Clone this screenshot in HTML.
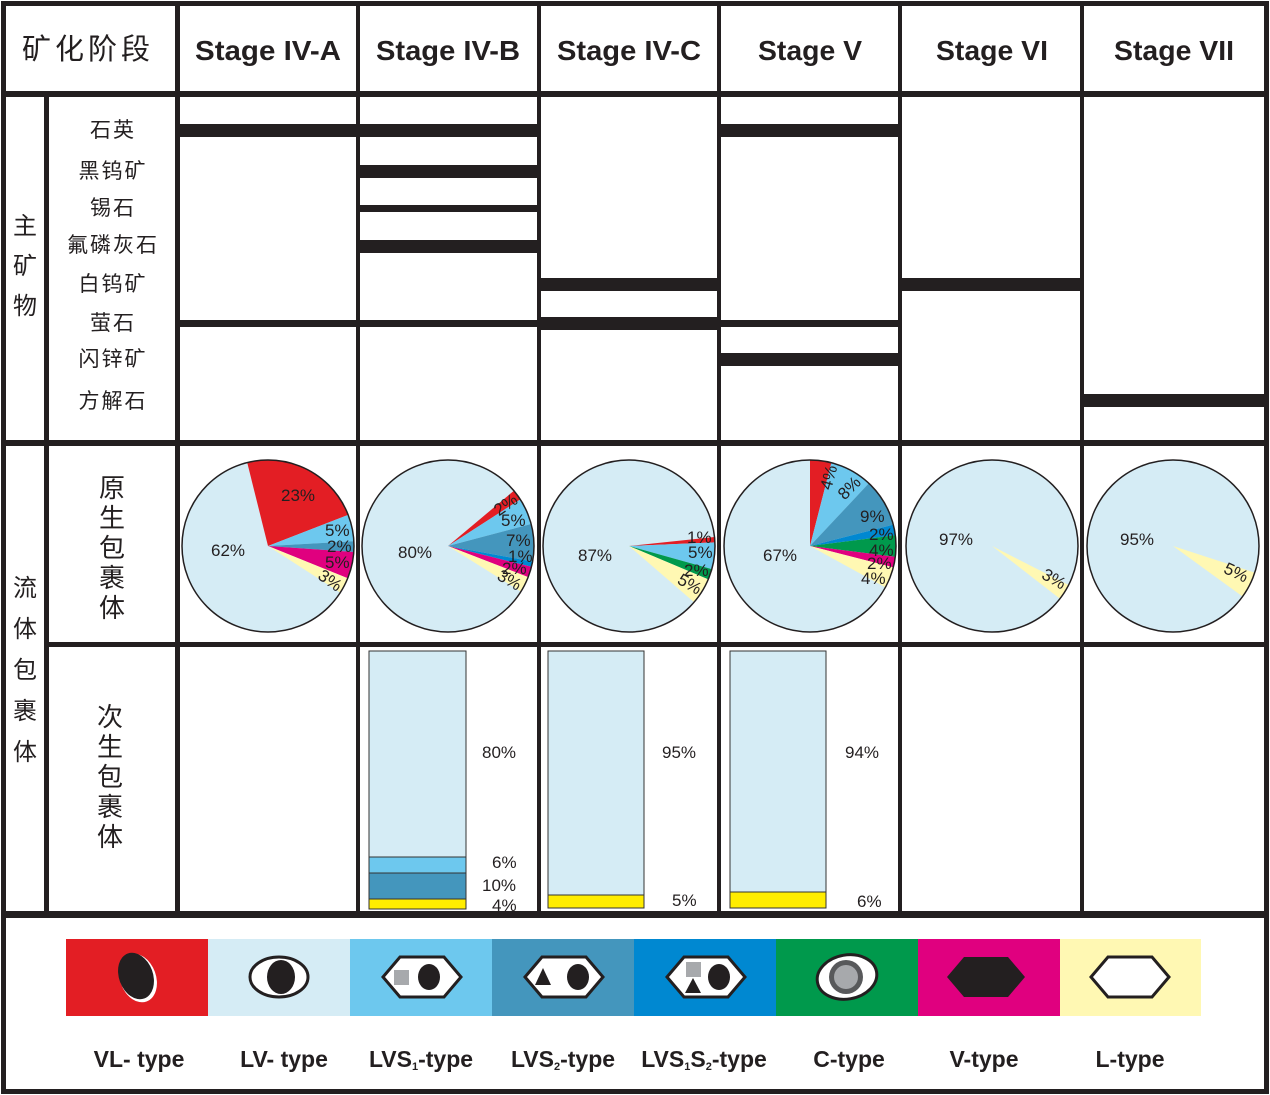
<!DOCTYPE html>
<html><head><meta charset="utf-8"><style>
html,body{margin:0;padding:0;background:#fff;}
svg{display:block;}
text{font-family:"Liberation Sans","Noto Sans CJK SC",sans-serif;fill:#231f20;}
.st{font-weight:bold;font-size:28px;}
.p{font-size:16px;}
.pp{font-size:17px;}
.lg{font-family:"Liberation Sans Narrow","Liberation Sans",sans-serif;font-weight:bold;font-size:23px;}
</style></head><body>
<svg id="s" width="1270" height="1095" viewBox="0 0 1270 1095" xmlns="http://www.w3.org/2000/svg">
<rect x="0" y="0" width="1270" height="1095" fill="#fff"/>
<g id="pies"></g>
<g stroke="#333" stroke-width="1">
<rect x="369" y="651" width="97" height="206" fill="#d5ecf5"/>
<rect x="369" y="857" width="97" height="16" fill="#6dc8ee"/>
<rect x="369" y="873" width="97" height="26" fill="#4496bd"/>
<rect x="369" y="899" width="97" height="10" fill="#ffed00"/>
<rect x="548" y="651" width="96" height="244" fill="#d5ecf5"/>
<rect x="548" y="895" width="96" height="13" fill="#ffed00"/>
<rect x="730" y="651" width="96" height="241" fill="#d5ecf5"/>
<rect x="730" y="892" width="96" height="16" fill="#ffed00"/>
</g>
<g class="pp">
<text x="482" y="758">80%</text><text x="492" y="868">6%</text><text x="482" y="891">10%</text><text x="492" y="911">4%</text>
<text x="662" y="758">95%</text><text x="672" y="906">5%</text>
<text x="845" y="758">94%</text><text x="857" y="907">6%</text>
</g>
<g fill="#231f20">
<rect x="178" y="124" width="182" height="13"/>
<rect x="358" y="124" width="180" height="13"/>
<rect x="719" y="124" width="181" height="13"/>
<rect x="358" y="165" width="180" height="13"/>
<rect x="358" y="205" width="180" height="7"/>
<rect x="358" y="240" width="180" height="13"/>
<rect x="538" y="278" width="181" height="13"/>
<rect x="900" y="278" width="182" height="13"/>
<rect x="178" y="320" width="180" height="7"/>
<rect x="358" y="320" width="180" height="7"/>
<rect x="538" y="317" width="181" height="13"/>
<rect x="719" y="320" width="181" height="7"/>
<rect x="719" y="353" width="181" height="13"/>
<rect x="1082" y="394" width="183" height="13"/>
</g>
<g fill="#231f20">
<rect x="1" y="1" width="1268" height="5"/>
<rect x="1" y="1089" width="1268" height="5"/>
<rect x="1" y="1" width="5" height="1093"/>
<rect x="1264" y="1" width="5" height="1093"/>
<rect x="1" y="91" width="1268" height="6"/>
<rect x="1" y="440" width="1268" height="6"/>
<rect x="44" y="642" width="1225" height="5"/>
<rect x="1" y="911" width="1268" height="7"/>
<rect x="44" y="91" width="5" height="826"/>
<rect x="175" y="1" width="5" height="916"/>
<rect x="356" y="1" width="4" height="916"/>
<rect x="537" y="1" width="4" height="916"/>
<rect x="717" y="1" width="4" height="916"/>
<rect x="898" y="1" width="4" height="916"/>
<rect x="1080" y="1" width="4" height="916"/>
</g>
<text x="88" y="59" text-anchor="middle" style="font-size:29px;letter-spacing:4px">矿化阶段</text>
<g class="st" text-anchor="middle">
<text x="268" y="60" textLength="146" lengthAdjust="spacingAndGlyphs">Stage IV-A</text>
<text x="448" y="60" textLength="144" lengthAdjust="spacingAndGlyphs">Stage IV-B</text>
<text x="629" y="60" textLength="144" lengthAdjust="spacingAndGlyphs">Stage IV-C</text>
<text x="810" y="60" textLength="104" lengthAdjust="spacingAndGlyphs">Stage V</text>
<text x="992" y="60" textLength="112" lengthAdjust="spacingAndGlyphs">Stage VI</text>
<text x="1174" y="60" textLength="120" lengthAdjust="spacingAndGlyphs">Stage VII</text>
</g>
<g style="font-size:24px" text-anchor="middle">
<text x="25" y="234">主</text><text x="25" y="274">矿</text><text x="25" y="314">物</text>
<text x="25" y="596">流</text><text x="25" y="637">体</text><text x="25" y="678">包</text><text x="25" y="719">裹</text><text x="25" y="760">体</text>
</g>
<g style="font-size:21px;letter-spacing:2px" text-anchor="middle">
<text x="113" y="137">石英</text>
<text x="113" y="178">黑钨矿</text>
<text x="113" y="215">锡石</text>
<text x="113" y="252">氟磷灰石</text>
<text x="113" y="291">白钨矿</text>
<text x="113" y="330">萤石</text>
<text x="113" y="366">闪锌矿</text>
<text x="113" y="408">方解石</text>
</g>
<g style="font-size:26px" text-anchor="middle">
<text x="112" y="497">原</text><text x="112" y="527">生</text><text x="112" y="557">包</text><text x="112" y="587">裹</text><text x="112" y="617">体</text>
<text x="110" y="726">次</text><text x="110" y="756">生</text><text x="110" y="786">包</text><text x="110" y="816">裹</text><text x="110" y="846">体</text>
</g>
<g class="pp">
<text x="211" y="556">62%</text><text x="281" y="501">23%</text>
<text x="325" y="536">5%</text><text x="327" y="552">2%</text><text x="325" y="568">5%</text><text x="318" y="586" transform="rotate(35 330 580)">3%</text>
<text x="398" y="558">80%</text>
<text x="493" y="512" transform="rotate(-35 503 505)">2%</text><text x="501" y="526">5%</text><text x="506" y="546">7%</text><text x="508" y="562">1%</text><text x="502" y="574">2%</text><text x="497" y="585" transform="rotate(30 508 580)">3%</text>
<text x="578" y="561">87%</text>
<text x="687" y="543">1%</text><text x="688" y="558">5%</text><text x="684" y="576">2%</text><text x="677" y="590" transform="rotate(30 690 585)">5%</text>
<text x="763" y="561">67%</text>
<text x="812" y="490" transform="rotate(-75 822 478)">4%</text><text x="836" y="496" transform="rotate(-45 846 488)">8%</text>
<text x="860" y="522">9%</text><text x="869" y="540">2%</text><text x="869" y="556">4%</text><text x="867" y="569">2%</text><text x="861" y="584">4%</text>
<text x="939" y="545">97%</text><text x="1042" y="584" transform="rotate(30 1053 578)">3%</text>
<text x="1120" y="545">95%</text><text x="1224" y="578" transform="rotate(25 1236 572)">5%</text>
</g>
<rect x="66" y="939" width="142" height="77" fill="#e31e24"/>
<rect x="208" y="939" width="142" height="77" fill="#d5ecf5"/>
<rect x="350" y="939" width="142" height="77" fill="#6dc8ee"/>
<rect x="492" y="939" width="142" height="77" fill="#4496bd"/>
<rect x="634" y="939" width="142" height="77" fill="#0088d1"/>
<rect x="776" y="939" width="142" height="77" fill="#00994c"/>
<rect x="918" y="939" width="142" height="77" fill="#e0007f"/>
<rect x="1060" y="939" width="141" height="77" fill="#fff8b3"/>
<ellipse cx="138" cy="978" rx="18" ry="25" fill="#fff" transform="rotate(-20 138 978)"/>
<ellipse cx="136" cy="976" rx="17" ry="24" fill="#231f20" transform="rotate(-20 136 976)"/>
<ellipse cx="279" cy="977" rx="29" ry="20" fill="#fff" stroke="#231f20" stroke-width="3"/>
<ellipse cx="281" cy="977" rx="14" ry="17" fill="#231f20"/>
<g stroke="#231f20" stroke-width="3" fill="#fff">
<polygon points="383,977 400,957 444,957 461,977 444,997 400,997"/>
<polygon points="525,977 542,957 586,957 603,977 586,997 542,997"/>
<polygon points="667,977 684,957 728,957 745,977 728,997 684,997"/>
<polygon points="1091,977 1108,957 1152,957 1169,977 1152,997 1108,997"/>
</g>
<polygon points="947,977 964,957 1008,957 1025,977 1008,997 964,997" fill="#231f20"/>
<rect x="394" y="970" width="15" height="15" fill="#a7a9ac"/>
<ellipse cx="429" cy="977" rx="11" ry="13" fill="#231f20"/>
<polygon points="535,985 543,968 551,985" fill="#231f20"/>
<ellipse cx="578" cy="977" rx="11" ry="13" fill="#231f20"/>
<rect x="686" y="962" width="15" height="15" fill="#a7a9ac"/>
<polygon points="685,993 693,978 701,993" fill="#231f20"/>
<ellipse cx="719" cy="977" rx="11" ry="13" fill="#231f20"/>
<ellipse cx="847" cy="977" rx="30" ry="22" fill="#fff" stroke="#231f20" stroke-width="3" transform="rotate(-10 847 977)"/>
<circle cx="846" cy="977" r="17" fill="#58595b"/>
<circle cx="846" cy="977" r="12" fill="#a7a9ac"/>
<g class="lg" text-anchor="middle">
<text x="139" y="1067">VL- type</text>
<text x="284" y="1067">LV- type</text>
<text x="421" y="1067">LVS<tspan font-size="11" dy="3">1</tspan><tspan dy="-3">-type</tspan></text>
<text x="563" y="1067">LVS<tspan font-size="11" dy="3">2</tspan><tspan dy="-3">-type</tspan></text>
<text x="704" y="1067">LVS<tspan font-size="11" dy="3">1</tspan><tspan dy="-3">S</tspan><tspan font-size="11" dy="3">2</tspan><tspan dy="-3">-type</tspan></text>
<text x="849" y="1067">C-type</text>
<text x="984" y="1067">V-type</text>
<text x="1130" y="1067">L-type</text>
</g>
</svg>
<script>
(function(){
var C={lb:"#d5ecf5",r:"#e31e24",s:"#6dc8ee",t:"#4496bd",b:"#0088d1",g:"#00994c",m:"#e0007f",y:"#fff8b3"};
var pies=[
[268,-14,[["r",23],["s",5],["t",2],["m",5],["y",3]]],
[448,50,[["r",2],["s",5],["t",7],["b",1],["m",2],["y",3]]],
[629,84,[["r",1],["s",5],["g",2],["y",5]]],
[810,0,[["r",4],["s",8],["t",9],["b",2],["g",4],["m",2],["y",4]]],
[992,117,[["y",3]]],
[1173,108,[["y",5]]]];
var ns="http://www.w3.org/2000/svg",g=document.getElementById("pies"),cy=546,R=86;
function pt(cx,a){a=a*Math.PI/180;return [cx+R*Math.sin(a),cy-R*Math.cos(a)];}
pies.forEach(function(p){
var cx=p[0],a=p[1];
var c=document.createElementNS(ns,"circle");c.setAttribute("cx",cx);c.setAttribute("cy",cy);c.setAttribute("r",R);c.setAttribute("fill",C.lb);g.appendChild(c);
p[2].forEach(function(s){var e=a+s[1]*3.6;var p1=pt(cx,a),p2=pt(cx,e);
var d="M"+cx+","+cy+"L"+p1[0]+","+p1[1]+"A"+R+","+R+" 0 "+((e-a)>180?1:0)+" 1 "+p2[0]+","+p2[1]+"Z";
var q=document.createElementNS(ns,"path");q.setAttribute("d",d);q.setAttribute("fill",C[s[0]]);g.appendChild(q);a=e;});
var o=document.createElementNS(ns,"circle");o.setAttribute("cx",cx);o.setAttribute("cy",cy);o.setAttribute("r",R);o.setAttribute("fill","none");o.setAttribute("stroke","#231f20");o.setAttribute("stroke-width","1.5");g.appendChild(o);
});
})();
</script>
</body></html>
